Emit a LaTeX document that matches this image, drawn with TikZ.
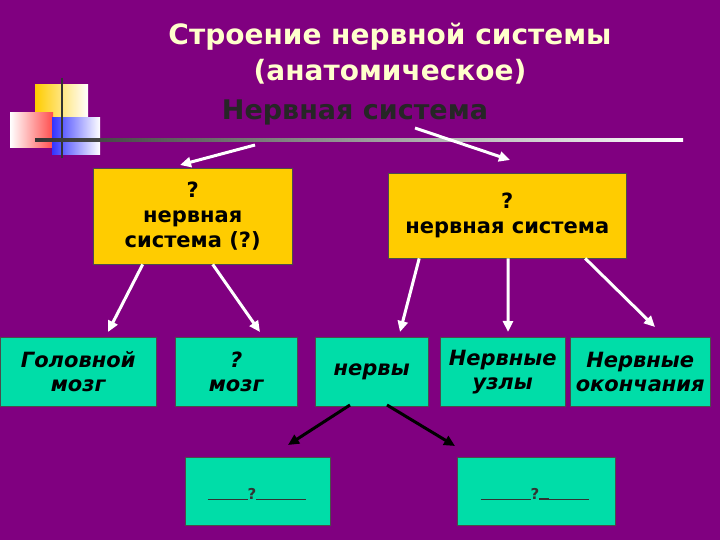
\documentclass[tikz,border=0pt]{standalone}
\usepackage{fontspec}
\setmainfont{DejaVu Sans}
\usetikzlibrary{arrows.meta}
\definecolor{bg}{HTML}{800080}
\definecolor{yel}{HTML}{FFCC00}
\definecolor{tea}{HTML}{00DDA8}
\definecolor{ttl}{HTML}{FFFFCC}
\begin{document}
\begin{tikzpicture}[x=1pt,y=-1pt,
 yb/.style={draw=black!70,fill=yel,font=\bfseries\fontsize{21}{25}\selectfont,align=center,anchor=north west,inner sep=1pt},
 tb/.style={draw=black!70,fill=tea,font=\bfseries\itshape\fontsize{21}{24}\selectfont,align=center,anchor=north west,inner sep=1pt},
 wa/.style={white,line width=3pt,-{Triangle[length=11pt,width=10pt]}},
 ba/.style={black,line width=3pt,-{Triangle[length=11pt,width=10pt]}}]
\fill[bg] (0,0) rectangle (720,540);
\useasboundingbox (0,0) rectangle (720,540);
% decoration
\shade[left color=yel,right color=white] (35,85) rectangle (88,140);
\shade[left color=white,right color=red!70] (10,113) rectangle (53,148);
\shade[left color=blue!80,right color=white] (52,118) rectangle (100,155);
\draw[black!80,line width=1.5pt] (62,78) -- (62,158);
\shade[left color=black!80,right color=white] (35,139) rectangle (683,142);
% titles
\node[ttl,font=\bfseries\fontsize{28}{36}\selectfont,align=center] (t1) at (390,54) {Строение нервной системы\\(анатомическое)};
\node[black!85,font=\bfseries\fontsize{27}{30}\selectfont] (t2) at (355,112) {Нервная система};
% boxes
\node[yb,minimum width=199,minimum height=96] (a) at (93,168) {?\\нервная\\система (?)};
\node[yb,minimum width=238,minimum height=85] (b) at (388,173) {?\\нервная система};
\node[tb,minimum width=156,minimum height=69] (c1) at (0,337) {Головной\\мозг};
\node[tb,minimum width=122,minimum height=69] (c2) at (175,337) {?\\мозг};
\node[tb,minimum width=113,minimum height=69] (c3) at (315,337) {нервы};
\node[tb,minimum width=125,minimum height=69] (c4) at (440,337) {Нервные\\узлы};
\node[tb,minimum width=140,minimum height=69,inner xsep=0pt] (c5) at (570,337) {Нервные\\окончания};
\node[draw=black!70,fill=tea,minimum width=145,minimum height=68,anchor=north west] (d1) at (185,457) {};
\node[draw=black!70,fill=tea,minimum width=158,minimum height=68,anchor=north west] (d2) at (457,457) {};
\node[font=\bfseries\fontsize{15}{16}\selectfont,text=black!80] (q1) at (257,494) {\rule{40pt}{0.6pt}?\rule{50pt}{0.6pt}};
\node[font=\bfseries\fontsize{15}{16}\selectfont,text=black!80] (q2) at (535,494) {\rule{50pt}{0.6pt}?\rule{10pt}{1.2pt}\rule{40pt}{0.6pt}};
% arrows
\coordinate (s1) at (255,145); \coordinate (s2) at (415,128);
\draw[wa] (s1) -- (180,165);
\draw[wa] (s2) -- (510,160);
\draw[wa] ([xshift=-50pt]a.south) -- (108,332);
\draw[wa] ([xshift=20pt]a.south) -- (260,332);
\draw[wa] ([xshift=-88pt]b.south) -- (400,332);
\draw[wa] ([xshift=1pt]b.south) -- (508,332);
\draw[wa] ([xshift=78pt]b.south) -- (655,327);
\coordinate (e1) at (350,405); \coordinate (e2) at (387,405);
\draw[ba] (e1) -- (288,445);
\draw[ba] (e2) -- (455,446);
\end{tikzpicture}
\end{document}
